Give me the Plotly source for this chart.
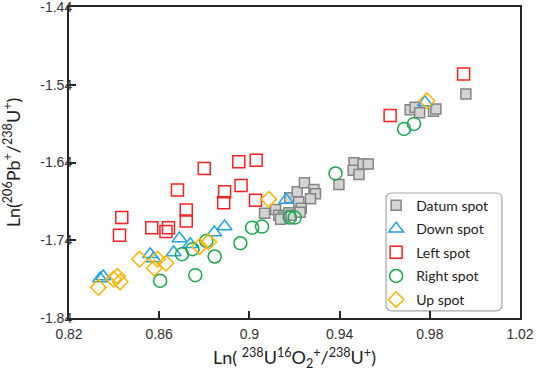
import plotly.graph_objects as go

# ---- data ----
datum_x = [0.9067, 0.9116, 0.9130, 0.9150, 0.9138, 0.9175, 0.9179, 0.9185, 0.9212, 0.9219,
           0.9244, 0.9286, 0.9293, 0.9271, 0.9230, 0.9225, 0.9397, 0.9464, 0.9460, 0.9486,
           0.9504, 0.9527, 0.9713, 0.9735, 0.9755, 0.9816, 0.9827, 0.9960]
datum_y = [-1.7054, -1.7003, -1.7079, -1.7103, -1.7131, -1.7045, -1.6853, -1.7080, -1.6776, -1.6909,
           -1.6661, -1.6746, -1.6801, -1.6865, -1.6990, -1.7040, -1.6682, -1.6404, -1.6500, -1.6554,
           -1.6420, -1.6420, -1.5721, -1.5690, -1.5760, -1.5742, -1.5712, -1.5519]

down_x = [0.8338, 0.8352, 0.8560, 0.8575, 0.8664, 0.8690, 0.8738, 0.8844, 0.8890, 0.9163, 0.9779]
down_y = [-1.7891, -1.7866, -1.7579, -1.7635, -1.7558, -1.7378, -1.7451, -1.7301, -1.7224, -1.6883, -1.5627]

left_x = [0.8434, 0.8424, 0.8567, 0.8641, 0.8630, 0.8681, 0.8720, 0.8720, 0.8800, 0.8890,
          0.8886, 0.8953, 0.8963, 0.9030, 0.9027, 0.9624, 0.9950]
left_y = [-1.7109, -1.7336, -1.7238, -1.7238, -1.7289, -1.6755, -1.7011, -1.7153, -1.6477, -1.6776,
          -1.6917, -1.6391, -1.6695, -1.6370, -1.6887, -1.5797, -1.5263]

right_x = [0.8604, 0.8760, 0.8701, 0.8748, 0.8809, 0.8846, 0.8960, 0.9012, 0.9056, 0.9179,
           0.9201, 0.9382, 0.9686, 0.9730]
right_y = [-1.7922, -1.7849, -1.7579, -1.7515, -1.7409, -1.7609, -1.7438, -1.7238, -1.7224, -1.7109,
           -1.7109, -1.6541, -1.5968, -1.5904]

up_x = [0.8330, 0.8397, 0.8415, 0.8427, 0.8513, 0.8578, 0.8592, 0.8630, 0.8779, 0.8819, 0.9086, 0.9787]
up_y = [-1.8006, -1.7900, -1.7866, -1.7934, -1.7644, -1.7759, -1.7644, -1.7695, -1.7481, -1.7422, -1.6874, -1.5605]

x_ticks = [0.82, 0.86, 0.90, 0.94, 0.98, 1.02]
x_tick_labels = ["0.82", "0.86", "0.9", "0.94", "0.98", "1.02"]
y_ticks = [-1.84, -1.74, -1.64, -1.54, -1.44]
y_tick_labels = ["-1.84", "-1.74", "-1.64", "-1.54", "-1.44"]

series = [
    ("Datum spot", datum_x, datum_y, dict(symbol="square", size=10, color="#D3D3D3",
                                          line=dict(color="#858585", width=1.5))),
    ("Down spot", down_x, down_y, dict(symbol="triangle-up-open", size=13, color="#1EA5E8",
                                       line=dict(width=1.5))),
    ("Left spot", left_x, left_y, dict(symbol="square-open", size=12, color="#FF1F1F",
                                       line=dict(width=1.5))),
    ("Right spot", right_x, right_y, dict(symbol="circle-open", size=13, color="#16A84C",
                                          line=dict(width=1.5))),
    ("Up spot", up_x, up_y, dict(symbol="diamond-open", size=12, color="#FFB400",
                                 line=dict(width=1.5))),
]

fig = go.Figure()
for i, (name, xs, ys, mk) in enumerate(series):
    fig.add_trace(go.Scatter(x=xs, y=ys, mode="markers", name=name, marker=mk,
                             legendgroup=str(i)))

axis_common = dict(showgrid=False, zeroline=False, showline=True, linecolor="#262626",
                   linewidth=2, mirror=True, ticks="inside", ticklen=7, tickwidth=2,
                   tickcolor="#262626", automargin=False, ticklabeloverflow="allow",
                   tickfont=dict(family="Liberation Sans", size=14, color="#333333"))

fig.update_layout(
    width=536, height=371,
    margin=dict(l=69, r=16, t=7, b=53),
    paper_bgcolor="white", plot_bgcolor="white",
    xaxis=dict(range=[0.82, 1.02], tickvals=x_ticks, ticktext=x_tick_labels,
               ticklabelstandoff=2,
               title=dict(text="Ln( <sup>238</sup>U<sup>16</sup>O<sub>2</sub><sup>+</sup>/<sup>238</sup>U<sup>+</sup>)",
                          font=dict(family="Lato", size=18, color="#222222")),
               **axis_common),
    yaxis=dict(range=[-1.84, -1.44], tickvals=y_ticks, ticktext=y_tick_labels,
               ticklabelstandoff=-8,
               title=dict(text="Ln(<sup>206</sup>Pb<sup>+</sup>/<sup>238</sup>U<sup>+</sup>)",
                          font=dict(family="Lato", size=18, color="#222222")),
               **axis_common),
    legend=dict(x=0.681, y=0.413, xanchor="left", yanchor="top",
                bgcolor="rgba(0,0,0,0)", borderwidth=0,
                font=dict(family="Lato", size=14, color="#222222"),
                tracegroupgap=2.4, traceorder="grouped"),
    shapes=[dict(type="path", xref="paper", yref="paper",
                 path="M 0.716 0.402 L 0.947 0.402 Q 0.960 0.402 0.960 0.383 "
                      "L 0.960 0.042 Q 0.960 0.023 0.947 0.023 L 0.716 0.023 "
                      "Q 0.703 0.023 0.703 0.042 L 0.703 0.383 Q 0.703 0.402 0.716 0.402 Z",
                 line=dict(color="#A6A6A6", width=1.2), fillcolor="white", layer="below")],
)

fig.write_html("out.html", config={"displayModeBar": False},
               post_script="document.body.style.margin='0';")
